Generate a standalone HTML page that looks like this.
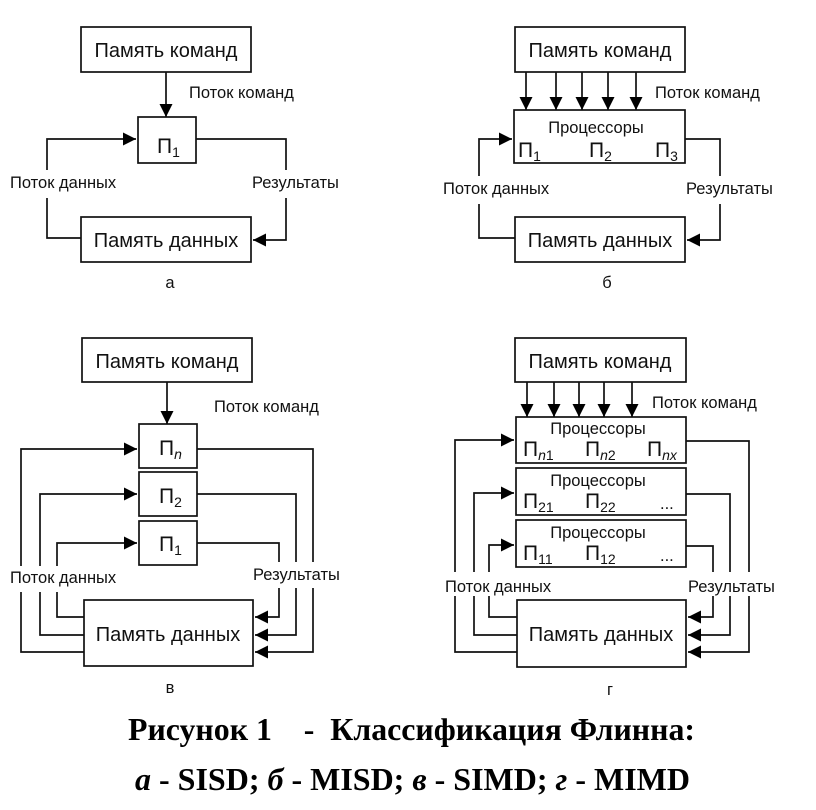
<!DOCTYPE html>
<html><head><meta charset="utf-8"><style>
html,body{margin:0;padding:0;background:#fff;}
svg{display:block}
.t{font-family:"Liberation Sans",sans-serif;font-size:20px;fill:#111}
.p{font-family:"Liberation Sans",sans-serif;font-size:21px;fill:#111}
.s{font-family:"Liberation Sans",sans-serif;font-size:16.5px;fill:#111}
.sub{font-family:"Liberation Sans",sans-serif;font-size:14px;fill:#111}
.cap{font-family:"Liberation Serif",serif;font-weight:bold;font-size:32px;fill:#000}
</style></head><body>
<svg width="816" height="810" viewBox="0 0 816 810" xmlns="http://www.w3.org/2000/svg">
<defs>
<marker id="ar" viewBox="0 0 10 10" refX="10" refY="5" markerWidth="15" markerHeight="13" markerUnits="userSpaceOnUse" orient="auto"><path d="M0,0 L10,5 L0,10 z" fill="#000"/></marker>
</defs>
<g fill="none" stroke="#111" stroke-width="1.7">
<!-- Panel a -->
<rect x="81" y="27" width="170" height="45"/>
<rect x="138" y="117" width="58" height="46"/>
<rect x="81" y="217" width="170" height="45"/>
<line x1="166" y1="72" x2="166" y2="117" marker-end="url(#ar)"/>
<polyline points="196,139 286,139 286,170"/>
<polyline points="286,198 286,240 253,240" marker-end="url(#ar)"/>
<polyline points="81,238 47,238 47,198"/>
<polyline points="47,170 47,139 136,139" marker-end="url(#ar)"/>
<!-- Panel b -->
<rect x="515" y="27" width="170" height="45"/>
<rect x="514" y="110" width="171" height="53"/>
<rect x="515" y="217" width="170" height="45"/>
<line x1="526" y1="72" x2="526" y2="110" marker-end="url(#ar)"/>
<line x1="556" y1="72" x2="556" y2="110" marker-end="url(#ar)"/>
<line x1="582" y1="72" x2="582" y2="110" marker-end="url(#ar)"/>
<line x1="608" y1="72" x2="608" y2="110" marker-end="url(#ar)"/>
<line x1="636" y1="72" x2="636" y2="110" marker-end="url(#ar)"/>
<polyline points="685,139 720,139 720,176"/>
<polyline points="720,204 720,240 687,240" marker-end="url(#ar)"/>
<polyline points="515,238 479,238 479,204"/>
<polyline points="479,176 479,139 512,139" marker-end="url(#ar)"/>
<!-- Panel c -->
<rect x="82" y="338" width="170" height="44"/>
<rect x="139" y="424" width="58" height="44"/>
<rect x="139" y="472" width="58" height="44"/>
<rect x="139" y="521" width="58" height="44"/>
<rect x="84" y="600" width="169" height="66"/>
<line x1="167" y1="382" x2="167" y2="424" marker-end="url(#ar)"/>
<polyline points="84,652 21,652 21,592"/>
<polyline points="21,566 21,449 137,449" marker-end="url(#ar)"/>
<polyline points="84,635 40,635 40,592"/>
<polyline points="40,566 40,494 137,494" marker-end="url(#ar)"/>
<polyline points="84,617 57,617 57,592"/>
<polyline points="57,566 57,543 137,543" marker-end="url(#ar)"/>
<polyline points="197,449 313,449 313,562"/>
<polyline points="313,588 313,652 255,652" marker-end="url(#ar)"/>
<polyline points="197,494 296,494 296,562"/>
<polyline points="296,588 296,635 255,635" marker-end="url(#ar)"/>
<polyline points="197,543 279,543 279,562"/>
<polyline points="279,588 279,617 255,617" marker-end="url(#ar)"/>
<!-- Panel d -->
<rect x="515" y="338" width="171" height="44"/>
<rect x="516" y="417" width="170" height="46"/>
<rect x="516" y="468" width="170" height="47"/>
<rect x="516" y="520" width="170" height="47"/>
<rect x="517" y="600" width="169" height="67"/>
<line x1="527" y1="382" x2="527" y2="417" marker-end="url(#ar)"/>
<line x1="554" y1="382" x2="554" y2="417" marker-end="url(#ar)"/>
<line x1="579" y1="382" x2="579" y2="417" marker-end="url(#ar)"/>
<line x1="604" y1="382" x2="604" y2="417" marker-end="url(#ar)"/>
<line x1="632" y1="382" x2="632" y2="417" marker-end="url(#ar)"/>
<polyline points="517,652 455,652 455,596"/>
<polyline points="455,572 455,440 514,440" marker-end="url(#ar)"/>
<polyline points="517,635 474,635 474,596"/>
<polyline points="474,572 474,493 514,493" marker-end="url(#ar)"/>
<polyline points="517,617 489,617 489,596"/>
<polyline points="489,572 489,545 514,545" marker-end="url(#ar)"/>
<polyline points="686,441 749,441 749,572"/>
<polyline points="749,596 749,652 688,652" marker-end="url(#ar)"/>
<polyline points="686,494 730,494 730,572"/>
<polyline points="730,596 730,635 688,635" marker-end="url(#ar)"/>
<polyline points="686,546 713,546 713,572"/>
<polyline points="713,596 713,617 688,617" marker-end="url(#ar)"/>
</g>
<!-- texts a -->
<text class="t" x="166" y="57" text-anchor="middle">Память команд</text>
<text class="t" x="166" y="247" text-anchor="middle">Память данных</text>
<text class="p" x="157" y="153">П<tspan class="sub" dy="4">1</tspan></text>
<text class="s" x="189" y="98">Поток команд</text>
<text class="s" x="10" y="188">Поток данных</text>
<text class="s" x="252" y="188">Результаты</text>
<text class="s" x="170" y="288" text-anchor="middle">а</text>
<!-- texts b -->
<text class="t" x="600" y="57" text-anchor="middle">Память команд</text>
<text class="t" x="600" y="247" text-anchor="middle">Память данных</text>
<text class="s" x="596" y="133" text-anchor="middle">Процессоры</text>
<text class="p" x="518" y="157">П<tspan class="sub" dy="4">1</tspan></text>
<text class="p" x="589" y="157">П<tspan class="sub" dy="4">2</tspan></text>
<text class="p" x="655" y="157">П<tspan class="sub" dy="4">3</tspan></text>
<text class="s" x="655" y="98">Поток команд</text>
<text class="s" x="443" y="194">Поток данных</text>
<text class="s" x="686" y="194">Результаты</text>
<text class="s" x="607" y="288" text-anchor="middle">б</text>
<!-- texts c -->
<text class="t" x="167" y="368" text-anchor="middle">Память команд</text>
<text class="t" x="168" y="641" text-anchor="middle">Память данных</text>
<text class="p" x="159" y="455">П<tspan class="sub" dy="4" font-style="italic">n</tspan></text>
<text class="p" x="159" y="503">П<tspan class="sub" dy="4">2</tspan></text>
<text class="p" x="159" y="551">П<tspan class="sub" dy="4">1</tspan></text>
<text class="s" x="214" y="412">Поток команд</text>
<text class="s" x="10" y="583">Поток данных</text>
<text class="s" x="253" y="580">Результаты</text>
<text class="s" x="170" y="693" text-anchor="middle">в</text>
<!-- texts d -->
<text class="t" x="600" y="368" text-anchor="middle">Память команд</text>
<text class="t" x="601" y="641" text-anchor="middle">Память данных</text>
<text class="s" x="598" y="434" text-anchor="middle">Процессоры</text>
<text class="s" x="598" y="486" text-anchor="middle">Процессоры</text>
<text class="s" x="598" y="538" text-anchor="middle">Процессоры</text>
<text class="p" x="523" y="456">П<tspan class="sub" dy="4"><tspan font-style="italic">n</tspan>1</tspan></text>
<text class="p" x="585" y="456">П<tspan class="sub" dy="4"><tspan font-style="italic">n</tspan>2</tspan></text>
<text class="p" x="647" y="456">П<tspan class="sub" dy="4" font-style="italic">nx</tspan></text>
<text class="p" x="523" y="508">П<tspan class="sub" dy="4">21</tspan></text>
<text class="p" x="585" y="508">П<tspan class="sub" dy="4">22</tspan></text>
<text class="s" x="660" y="509">...</text>
<text class="p" x="523" y="560">П<tspan class="sub" dy="4">11</tspan></text>
<text class="p" x="585" y="560">П<tspan class="sub" dy="4">12</tspan></text>
<text class="s" x="660" y="561">...</text>
<text class="s" x="652" y="408">Поток команд</text>
<text class="s" x="445" y="592">Поток данных</text>
<text class="s" x="688" y="592">Результаты</text>
<text class="s" x="610" y="695" text-anchor="middle">г</text>
<!-- caption -->
<text class="cap" x="128" y="740" textLength="567" lengthAdjust="spacingAndGlyphs" xml:space="preserve">Рисунок 1    -  Классификация Флинна:</text>
<text class="cap" x="135" y="790" textLength="555" lengthAdjust="spacingAndGlyphs"><tspan font-style="italic">а</tspan> - SISD; <tspan font-style="italic">б</tspan> - MISD; <tspan font-style="italic">в</tspan> - SIMD; <tspan font-style="italic">г</tspan> - MIMD</text>
</svg>
</body></html>
